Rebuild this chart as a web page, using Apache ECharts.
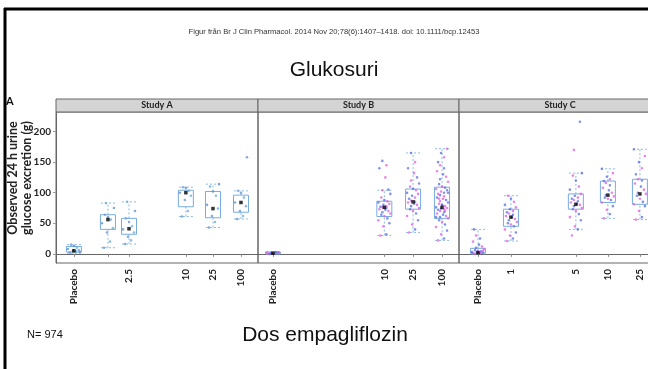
<!DOCTYPE html>
<html>
<head>
<meta charset="utf-8">
<script src="https://cdn.jsdelivr.net/npm/echarts@6/dist/echarts.min.js"></script>
<style>
html,body{margin:0;padding:0;background:#fff}
#container{width:648px;height:369px}
</style>
</head>
<body>
<div id="container"></div>
<script>
// study titles
var studyNames = ['Study A', 'Study B', 'Study C'];

// dose categories and their slot on the dose axis (0..7)
var doseLabelsA = ['Placebo', '', '2.5', '10', '25', '100'];
var dosePosA = [0.62, 1.8, 2.53, 4.5, 5.44, 6.41];
var doseLabelsB = ['Placebo', '10', '25', '100'];
var dosePosB = [0.52, 4.4, 5.4, 6.41];
var doseLabelsC = ['Placebo', '1', '5', '10', '25'];
var dosePosC = [0.66, 1.8, 4.05, 5.16, 6.27];

// box stats: [lower whisker, Q1, Q3, upper whisker] (g)
var boxesA = [[1, 3, 12, 15], [10, 40, 64, 83], [16, 32, 58, 85], [61, 77, 104, 109], [43, 59, 102, 114], [57, 68, 96, 103]];
var boxesB = [[0, 0, 3, 3], [30, 61, 86, 104], [35, 73, 106, 165], [22, 58, 109, 172]];
var boxesC = [[0, 1, 9, 40], [21, 45, 73, 95], [40, 73, 98, 132], [58, 84, 119, 139], [56, 81, 122, 171]];

// mean markers
var meansA = [5, 56, 41, 100, 74, 84];
var meansB = [1, 76, 85, 76];
var meansC = [2, 60, 81, 96, 98];

// individual observations per dose group
var pointsA = [
  [2, 4, 5, 6, 8, 10, 13, 15, 3],
  [10, 20, 35, 42, 50, 56, 60, 64, 75, 83],
  [16, 22, 28, 35, 40, 45, 52, 58, 70, 85],
  [61, 70, 88, 95, 100, 103, 108, 109],
  [43, 52, 62, 74, 80, 95, 102, 110, 114],
  [57, 62, 70, 78, 84, 92, 100, 103, 158]
];
var pointsB = [
  [0, 1, 1, 2, 2, 3, 1, 0, 2, 1],
  [30, 32, 45, 50, 55, 58, 62, 64, 66, 68, 70, 72, 73, 75, 76, 77, 78, 80, 82, 84, 86, 88, 92, 98, 104, 105, 125, 140, 145, 152],
  [35, 40, 48, 55, 62, 66, 70, 73, 75, 78, 80, 82, 84, 85, 87, 90, 92, 95, 98, 100, 104, 106, 110, 115, 120, 125, 132, 140, 150, 165],
  [22, 25, 32, 38, 44, 48, 52, 55, 58, 60, 62, 64, 66, 68, 70, 72, 73, 74, 75, 76, 78, 80, 82, 84, 86, 88, 90, 92, 94, 96, 98, 100, 102, 104, 106, 108, 110, 114, 118, 122, 126, 130, 135, 140, 145, 150, 158, 165, 172, 60, 70, 80, 90, 100]
];
var pointsC = [
  [0, 1, 2, 2, 3, 4, 5, 6, 8, 10, 12, 15, 20, 25, 30, 40, 1, 3, 5, 2],
  [21, 25, 30, 35, 40, 45, 48, 50, 52, 55, 57, 60, 62, 64, 66, 68, 70, 73, 76, 80, 85, 90, 95],
  [30, 40, 45, 55, 60, 65, 70, 73, 75, 78, 80, 82, 84, 86, 88, 90, 92, 95, 98, 105, 110, 120, 128, 132, 170, 216],
  [58, 65, 72, 78, 84, 88, 90, 92, 94, 96, 100, 104, 108, 112, 116, 119, 122, 126, 132, 139],
  [56, 60, 70, 78, 81, 85, 90, 95, 98, 100, 105, 110, 115, 120, 122, 130, 140, 150, 160, 171]
];

// y axis tick values
var yTicks = [0, 50, 100, 150, 200];

var studies = [
  {labels: doseLabelsA, pos: dosePosA, boxes: boxesA, means: meansA, points: pointsA, colors: ['#5b8fd0', '#6aa6d8']},
  {labels: doseLabelsB, pos: dosePosB, boxes: boxesB, means: meansB, points: pointsB, colors: ['#e05ce0', '#5a6ee0']},
  {labels: doseLabelsC, pos: dosePosC, boxes: boxesC, means: meansC, points: pointsC, colors: ['#e05ce0', '#5a6ee0']}
];

var panelLeft = [56, 258, 459];
var panelWidth = [202, 201, 202];
var jit = [-4, 2, -1, 5, -6, 3, 0, -3, 6, -2, 4, 1, -5, 2, -2];

var dom = document.getElementById('container');
var myChart = echarts.init(dom, null, {renderer: 'canvas'});

function renderBox(params, api) {
  var x = api.value(0);
  var lo = api.coord([x, api.value(1)]);
  var q1 = api.coord([x, api.value(2)]);
  var q3 = api.coord([x, api.value(3)]);
  var hi = api.coord([x, api.value(4)]);
  var hw = 7.5, cw = 7;
  var dash = {stroke: '#8dbbe3', lineWidth: 1, lineDash: [2, 2], fill: null};
  return {
    type: 'group',
    children: [
      {type: 'line', shape: {x1: lo[0], y1: lo[1], x2: q1[0], y2: q1[1]}, style: dash},
      {type: 'line', shape: {x1: q3[0], y1: q3[1], x2: hi[0], y2: hi[1]}, style: dash},
      {type: 'line', shape: {x1: lo[0] - cw, y1: lo[1], x2: lo[0] + cw, y2: lo[1]}, style: dash},
      {type: 'line', shape: {x1: hi[0] - cw, y1: hi[1], x2: hi[0] + cw, y2: hi[1]}, style: dash},
      {type: 'rect', shape: {x: q3[0] - hw, y: q3[1], width: hw * 2, height: Math.max(q1[1] - q3[1], 1)},
        style: {fill: 'rgba(255,255,255,0.3)', stroke: '#78ace0', lineWidth: 1}}
    ]
  };
}

function makePointRenderer(colors) {
  return function (params, api) {
    var c = api.coord([api.value(0), api.value(1)]);
    var k = api.value(2);
    return {
      type: 'circle',
      shape: {cx: c[0] + jit[k % jit.length], cy: c[1], r: 1.3},
      style: {fill: colors[k % colors.length], opacity: 0.75}
    };
  };
}

var grids = [], xAxes = [], yAxes = [], series = [], graphics = [];

studies.forEach(function (s, i) {
  grids.push({
    left: panelLeft[i], top: 112, width: panelWidth[i], height: 151,
    outerBoundsMode: 'none', containLabel: false,
    show: true, borderColor: '#666', borderWidth: 1, backgroundColor: 'transparent'
  });
  xAxes.push({
    type: 'value', gridIndex: i, min: 0, max: 7,
    splitLine: {show: false},
    axisLine: {show: true, lineStyle: {color: '#666'}},
    axisTick: {show: true, customValues: s.pos, length: 3, lineStyle: {color: '#888'}},
    axisLabel: {
      customValues: s.pos, rotate: 90, margin: 6,
      fontFamily: 'Lato', fontWeight: 'bold', fontSize: 10, color: '#222',
      formatter: function (v) {
        var idx = s.pos.indexOf(v);
        return idx >= 0 ? s.labels[idx] : '';
      }
    }
  });
  yAxes.push({
    type: 'value', gridIndex: i, min: -15, max: 232,
    splitLine: {show: false},
    axisLine: {show: i === 0, lineStyle: {color: '#666'}},
    axisTick: {show: i === 0, customValues: yTicks, length: 3, lineStyle: {color: '#999'}},
    axisLabel: {
      show: i === 0, customValues: yTicks, margin: 5,
      fontFamily: 'Lato', fontWeight: 'bold', fontSize: 10, color: '#222'
    }
  });

  var boxData = s.boxes.map(function (b, g) { return [s.pos[g]].concat(b); });
  var ptData = [];
  s.points.forEach(function (grp, g) {
    grp.forEach(function (v, k) { ptData.push([s.pos[g], v, k]); });
  });
  var meanData = s.means.map(function (m, g) { return [s.pos[g], m]; });

  series.push({
    type: 'custom', xAxisIndex: i, yAxisIndex: i, data: boxData,
    renderItem: renderBox, silent: true, z: 2
  });
  series.push({
    type: 'custom', xAxisIndex: i, yAxisIndex: i, data: ptData,
    renderItem: makePointRenderer(s.colors), silent: true, z: 3
  });
  series.push({
    type: 'scatter', xAxisIndex: i, yAxisIndex: i, data: meanData,
    symbol: 'rect', symbolSize: 3.5, itemStyle: {color: '#000'}, silent: true, z: 4
  });

  // strip header
  graphics.push({
    type: 'rect', x: panelLeft[i], y: 99,
    shape: {x: 0, y: 0, width: panelWidth[i], height: 13},
    style: {fill: '#d4d4d4', stroke: '#666', lineWidth: 1}
  });
  graphics.push({
    type: 'text', x: panelLeft[i] + panelWidth[i] / 2, y: 105.5,
    style: {text: studyNames[i], font: 'bold 9px Lato', fill: '#222', align: 'center', verticalAlign: 'middle'}
  });
});

// y axis title
graphics.push({type: 'text', x: 20, y: 178, rotation: Math.PI / 2, style: {
  text: 'Observed 24 h urine\nglucose excretion (g)', font: 'bold 12.5px Lato', lineHeight: 14,
  fill: '#222', align: 'center', verticalAlign: 'middle'}});

// frame lines and texts
graphics.push({type: 'line', shape: {x1: 4, y1: 9, x2: 648, y2: 9}, style: {stroke: '#000', lineWidth: 3}});
graphics.push({type: 'line', shape: {x1: 5, y1: 8, x2: 5, y2: 369}, style: {stroke: '#000', lineWidth: 3}});
graphics.push({type: 'text', x: 334, y: 32, style: {
  text: 'Figur från Br J Clin Pharmacol. 2014 Nov 20;78(6):1407–1418. doi: 10.1111/bcp.12453',
  font: '7.6px "Liberation Sans"', fill: '#333', align: 'center', verticalAlign: 'middle'}});
graphics.push({type: 'text', x: 334, y: 70, style: {
  text: 'Glukosuri', font: '21px "Liberation Sans"', fill: '#111', align: 'center', verticalAlign: 'middle'}});
graphics.push({type: 'text', x: 6, y: 101, style: {
  text: 'A', font: 'bold 11px Lato', fill: '#111', align: 'left', verticalAlign: 'middle'}});
graphics.push({type: 'text', x: 27, y: 335, style: {
  text: 'N= 974', font: '11px "Liberation Sans"', fill: '#111', align: 'left', verticalAlign: 'middle'}});
graphics.push({type: 'text', x: 325, y: 335, style: {
  text: 'Dos empagliflozin', font: '21px "Liberation Sans"', fill: '#111', align: 'center', verticalAlign: 'middle'}});

var option = {
  backgroundColor: '#fff',
  animation: false,
  grid: grids,
  xAxis: xAxes,
  yAxis: yAxes,
  series: series,
  graphic: graphics
};

myChart.setOption(option);
window.addEventListener('resize', myChart.resize);
</script>
</body>
</html>
